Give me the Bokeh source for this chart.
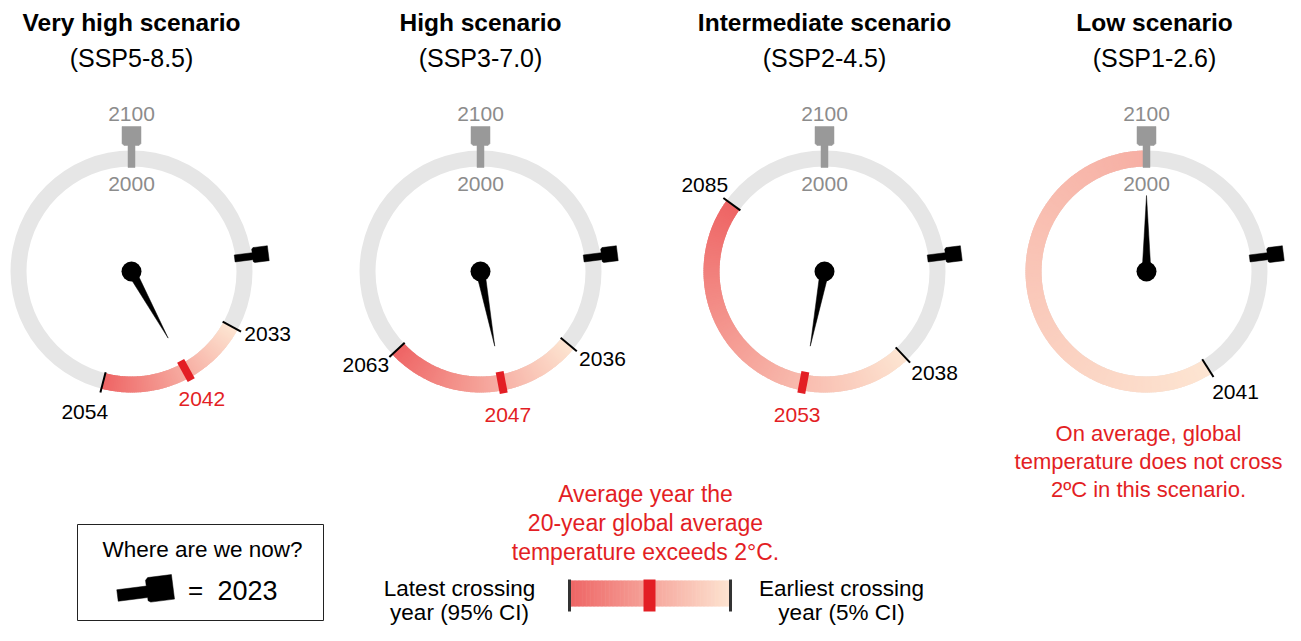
import numpy as np
from bokeh.plotting import figure
from bokeh.models import Range1d
from bokeh.embed import file_html
from bokeh.resources import INLINE
from bokeh.core.properties import value

# ---------------- data ----------------
titles = ["Very high scenario", "High scenario", "Intermediate scenario", "Low scenario"]
subtitles = ["(SSP5-8.5)", "(SSP3-7.0)", "(SSP2-4.5)", "(SSP1-2.6)"]
earliest_years = [2033, 2036, 2038, 2041]      # 5% CI crossing year
latest_years = [2054, 2063, 2085, None]        # 95% CI crossing year (None: beyond 2100)
average_years = [2042, 2047, 2053, None]       # average crossing year (None: not crossed)
current_year = 2023
dial_start = 2000
dial_end = 2100
dial_start_label = "2000"
dial_end_label = "2100"
legend_title = "Where are we now?"
legend_current = "2023"
avg_note = ["Average year the", "20-year global average", "temperature exceeds 2°C."]
low_note = ["On average, global", "temperature does not cross", "2ºC in this scenario."]
latest_note = ["Latest crossing", "year (95% CI)"]
earliest_note = ["Earliest crossing", "year (5% CI)"]

# ---------------- layout / style ----------------
W, H = 1285, 625


def X(xi):
    return xi


def Y(yi):
    return H - yi


centers_x = [X(v) for v in (131, 480, 824, 1146)]
center_y = Y(271)
R_IN, R_OUT = 105, 121
FONT = value("Liberation Sans")
RED = "#e31e24"
GREY_TXT = "#8c8c8c"
RING = "#e6e6e6"
LIGHT = np.array([253, 229, 210])
DARK = np.array([238, 100, 100])
LOW_END_FRACTION = 0.42


def mix(f):
    c = LIGHT + (DARK - LIGHT) * f
    return "#%02x%02x%02x" % tuple(int(round(v)) for v in c)


def theta(year):
    return (year - dial_start) / (dial_end - dial_start) * 2 * np.pi


def bangle(year):
    return np.pi / 2 - theta(year)


def pt(cx, cy, t, r):
    return cx + r * np.sin(t), cy + r * np.cos(t)


def place(shape, ox, oy, t, scale=1.0):
    d = (np.sin(t), np.cos(t))
    n = (-np.cos(t), np.sin(t))
    xs = [ox + scale * (u * d[0] + v * n[0]) for u, v in shape]
    ys = [oy + scale * (u * d[1] + v * n[1]) for u, v in shape]
    return xs, ys


CROWN_NOW = [(0, -3.5), (18, -3.5), (18, -5.5), (19.5, -6.5), (34, -6.5), (34, 8.5),
             (19.5, 8.5), (18, 7), (18, 3.5), (0, 3.5)]
CROWN_TOP = [(0, -3.5), (22, -3.5), (22, -7.5), (24, -9.5), (41, -9.5), (41, 9.5),
             (24, 9.5), (22, 7.5), (22, 3.5), (0, 3.5)]

p = figure(width=W, height=H, x_range=Range1d(0, W), y_range=Range1d(0, H),
           output_backend="svg", toolbar_location=None, min_border=0,
           x_axis_type=None, y_axis_type=None)
p.grid.visible = False
p.outline_line_color = None


def add_text(xs, ys, texts, size, color="black", bold=False, align="center"):
    p.text(x=list(xs), y=list(ys), text=list(texts), text_font=FONT,
           text_font_size=value(f"{size}px"), text_color=color,
           text_font_style="bold" if bold else "normal",
           text_align=align, text_baseline="middle")


# titles
title_x = [X(v) for v in (131, 480, 824, 1154)]
add_text(title_x, [Y(22)] * 4, titles, 24.5, bold=True)
add_text(title_x, [Y(57)] * 4, subtitles, 25)

# base rings
p.annulus(x=centers_x, y=[center_y] * 4, inner_radius=R_IN, outer_radius=R_OUT,
          fill_color=RING, line_color=None)

# gradient arcs
step = 0.25
gx, gy, gs, ge, gc = [], [], [], [], []
for cx, e, l in zip(centers_x, earliest_years, latest_years):
    if l is None:
        a_end, f_end = dial_end, LOW_END_FRACTION
    else:
        a_end, f_end = l, 1.0
    for y0 in np.arange(e, a_end, step):
        y1 = min(y0 + step * 1.8, a_end)
        f = f_end * (y0 + step / 2 - e) / (a_end - e)
        gx.append(cx)
        gy.append(center_y)
        gs.append(bangle(y1))
        ge.append(bangle(y0))
        gc.append(mix(min(f, 1.0)))
p.annular_wedge(x=gx, y=gy, inner_radius=R_IN, outer_radius=R_OUT,
                start_angle=gs, end_angle=ge, fill_color=gc, line_color=None)

# crowns: top (2000/2100) and current year
cxs, cys, ccol = [], [], []
for cx in centers_x:
    t0 = theta(dial_start)
    ox, oy = pt(cx, center_y, t0, 104)
    xs, ys = place(CROWN_TOP, ox, oy, t0)
    cxs.append(xs); cys.append(ys); ccol.append("#999999")
    tn = theta(current_year)
    ox, oy = pt(cx, center_y, tn, 104)
    xs, ys = place(CROWN_NOW, ox, oy, tn)
    cxs.append(xs); cys.append(ys); ccol.append("black")
# legend crown
xs, ys = place(CROWN_NOW, X(117), Y(595), theta(current_year), scale=1.65)
cxs.append(xs); cys.append(ys); ccol.append("black")
p.patches(xs=cxs, ys=cys, fill_color=ccol, line_color=ccol, line_width=0.5)

add_text(centers_x, [Y(113)] * 4, [dial_end_label] * 4, 21, color=GREY_TXT)
add_text(centers_x, [Y(183)] * 4, [dial_start_label] * 4, 21, color=GREY_TXT)

# ticks at earliest / latest and labels
tx0, ty0, tx1, ty1 = [], [], [], []
lx, ly, lt = [], [], []
shift = np.radians(4)
for cx, e, l in zip(centers_x, earliest_years, latest_years):
    for yr, sgn in ((e, -1), (l, 1)):
        if yr is None:
            continue
        t = theta(yr)
        a, b = pt(cx, center_y, t, R_IN - 1)
        c, d = pt(cx, center_y, t, R_OUT + 4)
        tx0.append(a); ty0.append(b); tx1.append(c); ty1.append(d)
        rl = 150 if sgn < 0 else 148
        s = shift if yr < 2080 else 0
        u, v = pt(cx, center_y, t + sgn * s, rl)
        lx.append(u); ly.append(v); lt.append(str(yr))
p.segment(x0=tx0, y0=ty0, x1=tx1, y1=ty1, line_color="black", line_width=2)
add_text(lx, ly, lt, 21)

# average marks
mx0, my0, mx1, my1, ax, ay, at = [], [], [], [], [], [], []
for cx, m in zip(centers_x, average_years):
    if m is None:
        continue
    t = theta(m)
    a, b = pt(cx, center_y, t, R_IN - 3)
    c, d = pt(cx, center_y, t, R_OUT + 3)
    mx0.append(a); my0.append(b); mx1.append(c); my1.append(d)
    u, v = pt(cx, center_y, t, 146)
    ax.append(u); ay.append(v); at.append(str(m))
p.segment(x0=mx0, y0=my0, x1=mx1, y1=my1, line_color=RED, line_width=8, line_cap="butt")
add_text(ax, ay, at, 21, color=RED)

# needles
nxs, nys = [], []
for cx, m in zip(centers_x, average_years):
    yr = m if m is not None else dial_start
    t = theta(yr)
    d = (np.sin(t), np.cos(t))
    n = (-np.cos(t), np.sin(t))
    L, hw = 76, 4.5
    nxs.append([cx + L * d[0], cx + hw * n[0] - 2 * d[0], cx - hw * n[0] - 2 * d[0]])
    nys.append([center_y + L * d[1], center_y + hw * n[1] - 2 * d[1], center_y - hw * n[1] - 2 * d[1]])
p.patches(xs=nxs, ys=nys, fill_color="black", line_color="black", line_width=0.5)
p.circle(x=centers_x, y=[center_y] * 4, radius=10, fill_color="black", line_color=None)

# low-scenario note
add_text([X(1148)] * 3, [Y(433), Y(461), Y(489)], low_note, 22, color=RED)

# legend box
p.quad(left=[X(77)], right=[X(323)], top=[Y(524)], bottom=[Y(620)],
       fill_color=None, line_color="#222222", line_width=1)
add_text([X(202)], [Y(549)], [legend_title], 22.5)
add_text([X(195)], [Y(589)], ["="], 26)
add_text([X(217)], [Y(590)], [legend_current], 27, align="left")

# gradient legend
add_text([X(645)] * 3, [Y(493), Y(522), Y(551)], avg_note, 23, color=RED)
bl, br, bt, bb = X(568), X(731), Y(580), Y(606)
nb = 120
edges = np.linspace(bl, br, nb + 1)
p.quad(left=edges[:-1], right=edges[1:] + 0.6, top=[bt] * nb, bottom=[bb] * nb,
       fill_color=[mix(1 - (i + 0.5) / nb) for i in range(nb)], line_color=None)
p.quad(left=[X(643)], right=[X(655)], top=[Y(579)], bottom=[Y(611)],
       fill_color=RED, line_color=None)
p.segment(x0=[X(569), X(730)], y0=[Y(579)] * 2, x1=[X(569), X(730)], y1=[Y(611)] * 2,
          line_color="#333333", line_width=3)
add_text([X(459)] * 2, [Y(588), Y(612)], latest_note, 22.5)
add_text([X(841)] * 2, [Y(588), Y(612)], earliest_note, 22.5)

open("out.html", "w").write(file_html(p, INLINE))
